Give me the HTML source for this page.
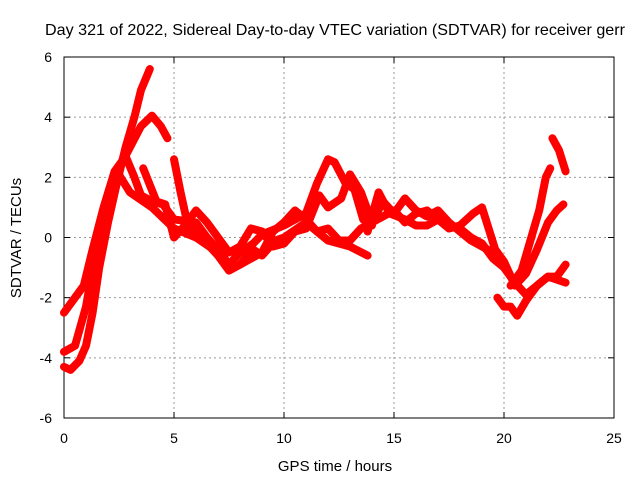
<!DOCTYPE html>
<html><head><meta charset="utf-8"><style>
html,body{margin:0;padding:0;background:#fff}
svg{display:block;font-family:"Liberation Sans",sans-serif}
</style></head><body>
<svg id="chart" width="640" height="480" viewBox="0 0 640 480" xmlns="http://www.w3.org/2000/svg">
<text x="45" y="35" font-size="16" textLength="580" lengthAdjust="spacingAndGlyphs" fill="#000">Day 321 of 2022, Sidereal Day-to-day VTEC variation (SDTVAR) for receiver gerr</text>
<rect x="64" y="57" width="550" height="361" fill="none" stroke="#000" stroke-width="1"/>
<g id="grid"></g>
<g id="ticks"></g>
<g id="series"></g>
<text x="335" y="471" font-size="15" text-anchor="middle">GPS time / hours</text>
<text transform="translate(21,238) rotate(-90)" font-size="15" text-anchor="middle">SDTVAR / TECUs</text>
</svg>
<script>
const xTicks=[0,5,10,15,20,25];
const yTicks=[-6,-4,-2,0,2,4,6];
const trackA=[[0,-4.3],[0.3,-4.4],[0.7,-4.1],[1,-3.6],[1.3,-2.5],[1.6,-1],[2,0.5],[2.4,1.8],[2.8,3],[3.2,4],[3.5,4.9],[3.9,5.6]];
const trackB=[[0,-3.8],[0.5,-3.6],[1,-2.3],[1.5,-0.2],[2,1.2],[2.5,2.3],[3,3],[3.5,3.7],[4,4.05],[4.4,3.7],[4.7,3.3]];
const trackC=[[0,-2.5],[0.4,-2.1],[0.9,-1.6],[1.3,-0.4],[1.8,1],[2.3,2.2],[2.8,2.7],[3.2,2],[3.5,1.4],[4,1.2],[4.5,1.1],[5,0.6],[6,0.5],[6.5,0],[7,-0.4],[7.5,-0.9],[8,-0.5],[8.6,-0.2],[9,0.1],[10,0.4],[11,0.8],[11.5,1.8],[12,2.6],[12.3,2.5],[12.8,1.8],[13.2,1.6],[13.6,0.6],[14,0.4]];
const trackD=[[2.4,2.2],[3,1.5],[4,1],[5,0.3],[6,0],[7,-0.5],[7.6,-1],[8,-0.9],[8.6,-0.4],[9,-0.6],[9.6,-0.1],[10,0],[11,0.5],[11.5,0.2],[12,-0.1],[13,-0.3],[13.8,-0.6]];
const trackE=[[5,2.6],[5.3,1.5],[5.6,0.5],[6,0.9],[6.5,0.5],[7,0],[7.5,-0.5],[8,-0.3],[8.5,0.3],[9,0.2],[9.5,-0.3],[10,-0.2],[10.5,0.2],[11,0.3],[11.6,1.4],[12,1.0],[12.6,1.3],[13,2.1],[13.5,1.5],[14,0.5],[14.5,1.2],[15,0.8],[15.5,1.3],[16,0.9],[16.5,0.7],[17,0.9],[17.5,0.5],[18,0.2],[18.5,-0.1],[19,-0.3],[19.5,-0.5],[20,-0.9]];
const trackF=[[3.6,2.3],[4.2,1.2],[4.6,1.1],[5,0],[5.5,0.4],[6,0.2],[6.5,-0.2],[7,-0.6],[7.5,-1.1],[8,-0.9],[9,-0.5],[9.5,0.2],[10,0.5],[10.5,0.9],[11,0.6],[11.5,0.2],[12,0.3],[12.5,-0.1],[13,-0.1],[13.5,0.3],[14,0.5],[14.5,0.7],[15,0.9],[15.5,0.5],[16,0.8],[16.5,0.9],[17,0.6],[17.5,0.4],[18,0.3],[18.5,0],[19,-0.2],[19.5,-0.7],[20,-1],[20.5,-1.5],[21,-1.9],[21.5,-1.6],[22,-1.3],[22.8,-1.5]];
const trackG=[[13.8,0.2],[14.3,1.5],[14.8,0.8],[15.5,0.6],[16,0.4],[16.5,0.4],[17,0.6],[17.5,0.3],[18,0.4],[18.6,0.8],[19,1],[19.3,0.3],[19.6,-0.4],[20,-0.8],[20.5,-1.6],[21,-1.2],[21.5,-0.4],[22,0.5],[22.4,0.9],[22.7,1.1]];
const trackH=[[19.7,-2],[20,-2.3],[20.3,-2.3],[20.6,-2.6],[21,-2.1],[21.5,-1.6],[22,-1.3],[22.4,-1.3],[22.8,-0.9]];
const trackI=[[20.3,-1.6],[20.8,-1.1],[21.2,-0.1],[21.6,0.9],[21.9,2],[22.1,2.3]];
const trackJ=[[22.2,3.3],[22.5,2.9],[22.8,2.2]];
const tracks=[trackA,trackB,trackC,trackD,trackE,trackF,trackG,trackH,trackI,trackJ];
const NS="http://www.w3.org/2000/svg";
const X=v=>64+v*22, Y=v=>237.5-v*30.08;
const grid=document.getElementById('grid'),ticks=document.getElementById('ticks'),ser=document.getElementById('series');
function mk(tag,attrs,parent){const e=document.createElementNS(NS,tag);for(const k in attrs)e.setAttribute(k,attrs[k]);parent.appendChild(e);return e;}
xTicks.forEach(t=>{
  if(t>0&&t<25){const g=mk('line',{x1:X(t),x2:X(t),y1:57,y2:418,stroke:'#999','stroke-dasharray':'2,3'},grid);
  
  }
  const tx=mk('text',{x:X(t),y:443,'font-size':14,'text-anchor':'middle'},ticks);
  
  
  tx.textContent=t;
  mk('line',{x1:X(t),x2:X(t),y1:418,y2:412,stroke:'#000'},ticks);
  mk('line',{x1:X(t),x2:X(t),y1:57,y2:63,stroke:'#000'},ticks);
});
yTicks.forEach(t=>{
  if(t>-6&&t<6){const g=mk('line',{x1:64,x2:614,y1:Y(t),y2:Y(t),stroke:'#999','stroke-dasharray':'2,3'},grid);
  
  }
  const tx=mk('text',{x:52,y:Y(t)+5,'font-size':14,'text-anchor':'end'},ticks);
  
  
  tx.textContent=t;
  mk('line',{x1:64,x2:70,y1:Y(t),y2:Y(t),stroke:'#000'},ticks);
  mk('line',{x1:614,x2:608,y1:Y(t),y2:Y(t),stroke:'#000'},ticks);
});
tracks.forEach((tr,i)=>{
  const p=mk('polyline',{points:tr.map(d=>X(d[0])+','+Y(d[1])).join(' '),fill:'none',stroke:'#f00','stroke-width':8,'stroke-linejoin':'round','stroke-linecap':'round'},ser);
  
  
});
</script>
</body></html>
